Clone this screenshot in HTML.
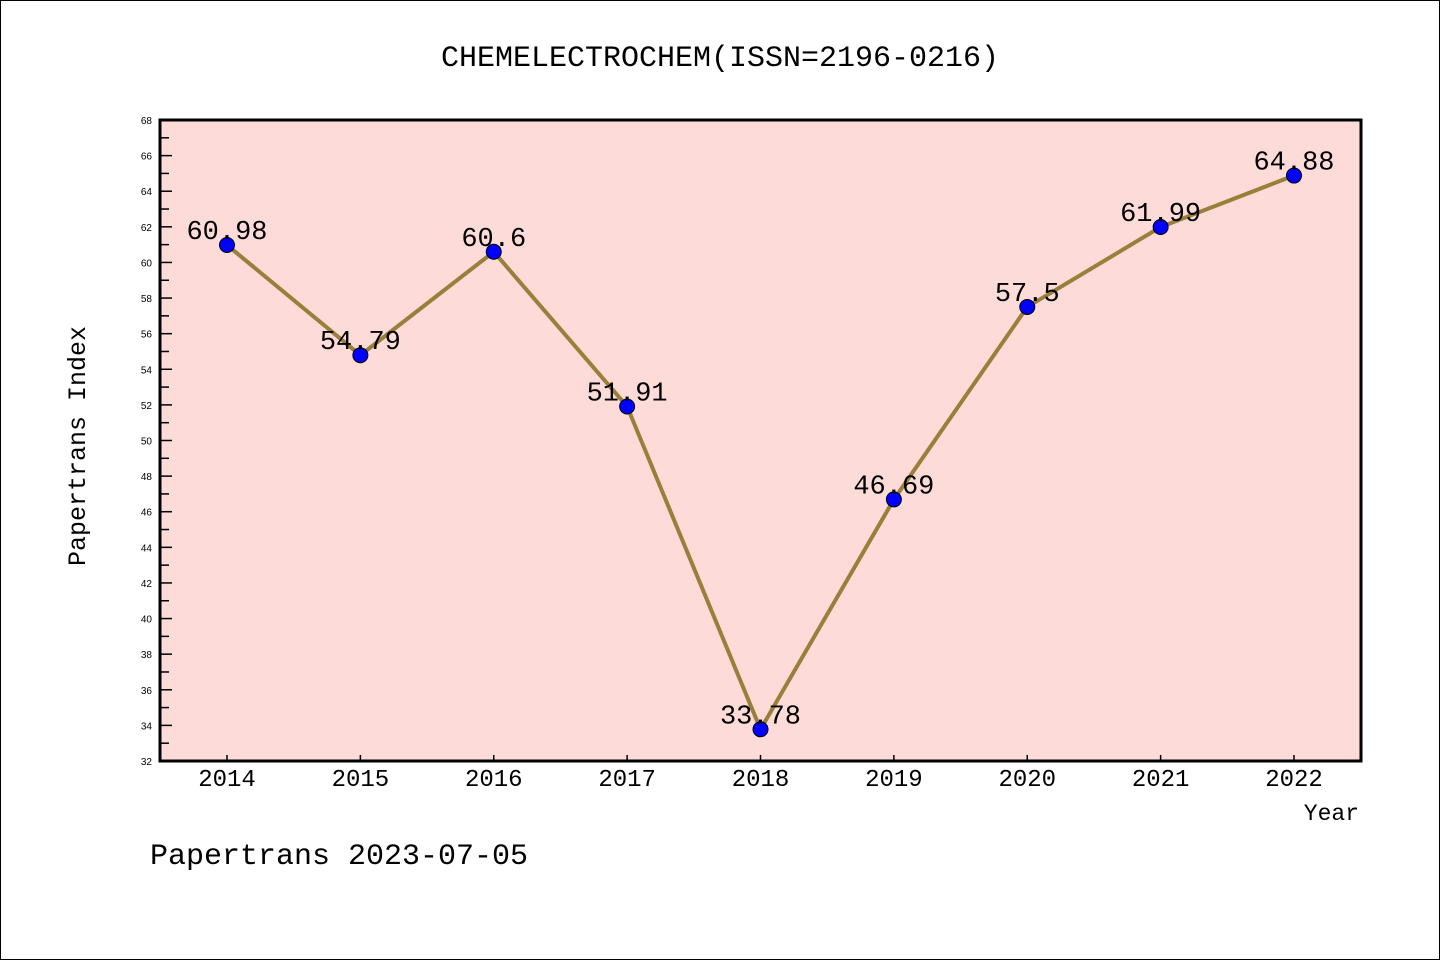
<!DOCTYPE html>
<html><head><meta charset="utf-8"><style>
html,body{margin:0;padding:0;background:#fff}
svg{display:block;font-family:"Liberation Mono","WenQuanYi Zen Hei",monospace}
</style></head><body>
<svg id="chart" width="1440" height="960">
<rect x="0.5" y="0.5" width="1439" height="959" fill="#fff" stroke="#000"/>
<text x="720" y="66" text-anchor="middle" font-size="30">CHEMELECTROCHEM(ISSN=2196-0216)</text>
<rect x="160" y="120" width="1201" height="641" fill="#fddbd8"/>
<g id="ticks"></g>
<g id="series"></g>
<rect x="160" y="120" width="1201" height="641" fill="none" stroke="#000" stroke-width="3"/>
<text transform="translate(85,446) rotate(-90)" text-anchor="middle" font-size="25">Papertrans Index</text>
<text x="1359" y="820" text-anchor="end" font-size="23">Year</text>
<text x="150" y="864" font-size="30">Papertrans 2023-07-05</text>
</svg>
<script>
const years = ['2014','2015','2016','2017','2018','2019','2020','2021','2022'];
const values = [60.98, 54.79, 60.6, 51.91, 33.78, 46.69, 57.5, 61.99, 64.88];
const valueLabels = ['60.98','54.79','60.6','51.91','33.78','46.69','57.5','61.99','64.88'];
const yTicks = [32,34,36,38,40,42,44,46,48,50,52,54,56,58,60,62,64,66,68];
const NS='http://www.w3.org/2000/svg';
const yMin=32,yMax=68,plotTop=120,plotBottom=761;
const ys=v=>plotBottom-(v-yMin)/(yMax-yMin)*(plotBottom-plotTop);
const xs=i=>227+i*(1294-227)/(years.length-1);
function mk(t,a,p){const e=document.createElementNS(NS,t);for(const k in a)e.setAttribute(k,a[k]);p.appendChild(e);return e;}
const tg=document.getElementById('ticks'),sg=document.getElementById('series');
yTicks.forEach((v,i)=>{
  const l=mk('line',{x1:160,x2:172,y1:ys(v),y2:ys(v),stroke:'#000','stroke-width':1.5},tg);
  
  
  const t=mk('text',{x:152,y:ys(v)+4,'text-anchor':'end','font-size':10,'font-family':'Liberation Sans, sans-serif'},tg);
  t.textContent=v;
  
  
  if(i<yTicks.length-1){
    const m=mk('line',{x1:160,x2:169,y1:ys(v+1),y2:ys(v+1),stroke:'#000','stroke-width':1.5},tg);
    
    
  }
});
years.forEach((yr,i)=>{
  const l=mk('line',{x1:xs(i),x2:xs(i),y1:761,y2:755,stroke:'#000','stroke-width':1.5},tg);
  
  
  const t=mk('text',{x:xs(i),y:786,'text-anchor':'middle','font-size':24},tg);
  t.textContent=yr;
  
  
});
const line=mk('polyline',{points:values.map((v,i)=>xs(i)+','+ys(v)).join(' '),fill:'none',stroke:'#9a7f3a','stroke-width':4},sg);


values.forEach((v,i)=>{
  const c=mk('circle',{cx:xs(i),cy:ys(v),r:7.5,fill:'#0000ff',stroke:'#000','stroke-width':1},sg);
  
  
  const t=mk('text',{x:xs(i),y:ys(v)-6,'text-anchor':'middle','font-size':27},sg);
  t.textContent=valueLabels[i];
  
  
});
</script>
</body></html>
